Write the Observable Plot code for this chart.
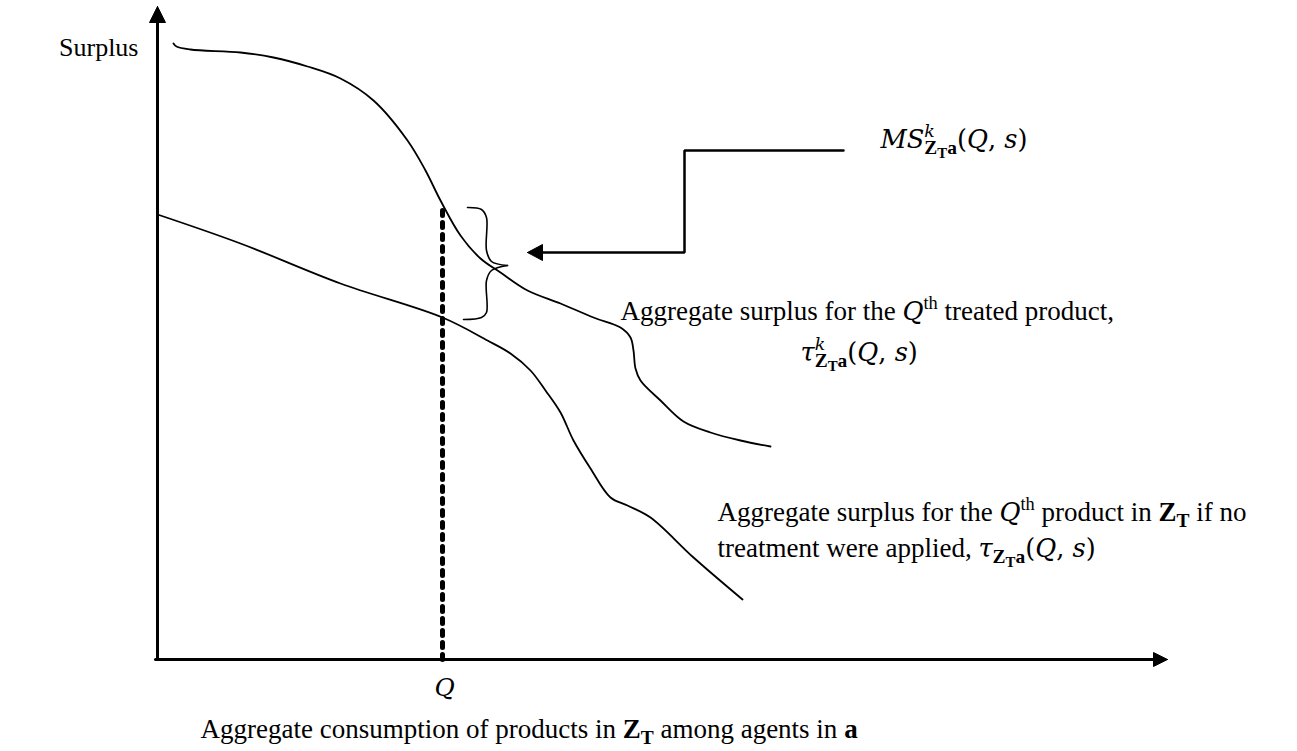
<!DOCTYPE html>
<html><head><meta charset="utf-8">
<script src="https://cdn.jsdelivr.net/npm/d3@7"></script>
<script src="https://cdn.jsdelivr.net/npm/@observablehq/plot@0.6"></script>
<style>body{margin:0;background:#fff}svg{display:block}</style>
</head><body><div id="chart"></div>
<script>
// Chart units: q = aggregate consumption (from the y-axis), s = surplus (above the x-axis)
const treatedCurve = [[16,616],[19,613],[33,610],[83,607],[116,602],[150,593],[183,581],[216,559],[250,519],[268,489],[283,459],[303,424],[323,401],[343,387],[370,369],[403,356],[436,342],[463,332],[473,322],[476,309],[478,291],[483,279],[503,259],[526,238],[553,227],[583,219],[613,213]];
const untreatedCurve = [[0,445],[83,416],[183,376],[285,342],[330,319],[353,306],[373,289],[388,269],[403,247],[416,219],[433,191],[453,162],[470,154],[493,142],[536,102],[585,60]];
const qMark = 285;           // position of Q on the consumption axis
const qTop = 456;            // where the dotted line meets the treated curve
const braceTop = [[310,452],[324,450],[329,442],[329,409],[334,398],[350,394]];
const braceBottom = [[350,394],[334,389],[329,379],[329,347],[324,342],[306,340]];
const connector = [[686,509],[527,509],[527,407],[385,407]];
const connectorHead = [[370,407],[385,415],[385,399],[370,407]];
const yAxisTop = 639, xAxisEnd = 996;
const yHead = [[0,653],[-8,637],[8,637],[0,653]];
const xHead = [[1010,0],[996,7],[996,-7],[1010,0]];

// labels: [key, q, s, anchor, fontSize, segments]   (m = math font)
const labels = [
  ["Surplus", -19, 612, "end", 26, [["Surplus"]]],
  ["MS", 723, 520, "start", 27, [["MS",{m:1,i:1}],["k",{m:1,i:1,sup:1}],["Z",{b:1,sub:1,back:1}],["T",{b:1,subsub:1}],["a",{b:1,sub:1}],["(",{m:1}],["Q",{m:1,i:1}],[", ",{m:1}],["s",{m:1,i:1}],[")",{m:1}]]],
  ["L1", 463, 348, "start", 27, [["Aggregate surplus for the "],["Q",{m:1,i:1}],["th",{sup:1}],[" treated product,"]]],
  ["L2", 643, 307, "start", 27, [["τ",{m:1,i:1}],["k",{m:1,i:1,sup:1}],["Z",{b:1,sub:1,back:1}],["T",{b:1,subsub:1}],["a",{b:1,sub:1}],["(",{m:1}],["Q",{m:1,i:1}],[", ",{m:1}],["s",{m:1,i:1}],[")",{m:1}]]],
  ["L3", 560, 147, "start", 27, [["Aggregate surplus for the "],["Q",{m:1,i:1}],["th",{sup:1}],[" product in "],["Z",{b:1}],["T",{b:1,sub:1}],[" if no"]]],
  ["L4", 560, 111, "start", 27, [["treatment were applied, "],["τ",{m:1,i:1}],["Z",{b:1,sub:1}],["T",{b:1,subsub:1}],["a",{b:1,sub:1}],["(",{m:1}],["Q",{m:1,i:1}],[", ",{m:1}],["s",{m:1,i:1}],[")",{m:1}]]],
  ["Qlabel", 287, -28, "middle", 26, [["Q",{m:1,i:1}]]],
  ["Caption", 43, -70, "start", 27, [["Aggregate consumption of products in "],["Z",{b:1}],["T",{b:1,sub:1}],[" among agents in "],["a",{b:1}]]]
];

const lineOpts = {x: d => d[0], y: d => d[1], stroke: "black"};
const textMark = anchor => Plot.text(labels.filter(d => d[3] === anchor), {
  x: d => d[1], y: d => d[2], text: d => d[0], textAnchor: anchor,
  fontSize: 26, fill: "black", lineAnchor: "middle"});
const plot = Plot.plot({
  width: 1297, height: 751,
  marginTop: 0, marginRight: 0, marginBottom: 0, marginLeft: 0,
  x: {domain: [-157, 1140], range: [0, 1297], axis: null},
  y: {domain: [-92, 659], range: [751, 0], axis: null},
  style: {background: "#fff", fontFamily: "'Liberation Serif', 'Times New Roman', serif"},
  marks: [
    Plot.line([[0,0],[0,yAxisTop]], {...lineOpts, strokeWidth: 3}),
    Plot.line(yHead, {...lineOpts, fill: "black", strokeWidth: 1}),
    Plot.line([[-2,0],[xAxisEnd,0]], {...lineOpts, strokeWidth: 3}),
    Plot.line(xHead, {...lineOpts, fill: "black", strokeWidth: 1}),
    Plot.line([[qMark,0],[qMark,qTop]], {...lineOpts, strokeWidth: 5, strokeDasharray: "5,7"}),
    Plot.line(treatedCurve, {...lineOpts, strokeWidth: 1.8, curve: "catmull-rom"}),
    Plot.line(untreatedCurve, {...lineOpts, strokeWidth: 1.8, curve: "catmull-rom"}),
    Plot.line(braceTop, {...lineOpts, strokeWidth: 1.6, curve: "catmull-rom"}),
    Plot.line(braceBottom, {...lineOpts, strokeWidth: 1.6, curve: "catmull-rom"}),
    Plot.line(connector, {...lineOpts, strokeWidth: 2.5, strokeLinejoin: "miter"}),
    Plot.line(connectorHead, {...lineOpts, fill: "black", strokeWidth: 1}),
    textMark("start"), textMark("middle"), textMark("end")
  ]
});
document.getElementById("chart").appendChild(plot);

function rich(el, segs, fs) {
  const ns = "http://www.w3.org/2000/svg";
  while (el.firstChild) el.removeChild(el.firstChild);
  el.setAttribute("font-size", fs);
  let cur = 0, prev = null;
  for (const [t, o = {}] of segs) {
    const ts = document.createElementNS(ns, "tspan");
    let size = 1, shift = 0;
    if (o.sup) { size = 0.68; shift = -0.42; }
    if (o.sub) { size = 0.72; shift = 0.22; }
    if (o.subsub) { size = 0.55; shift = 0.38; }
    if (o.m) { size *= 0.95; ts.setAttribute("font-family", "'DejaVu Serif', serif"); }
    ts.setAttribute("font-size", size * fs);
    if (o.i) ts.setAttribute("font-style", "italic");
    if (o.b) ts.setAttribute("font-weight", "bold");
    const dy = (shift - cur) * fs;
    if (dy) ts.setAttribute("dy", dy);
    cur = shift;
    if (o.back && prev) ts.setAttribute("dx", -prev.getComputedTextLength());
    ts.textContent = t;
    el.appendChild(ts);
    prev = ts;
  }
}
const byKey = new Map(labels.map(d => [d[0], d]));
plot.querySelectorAll("text").forEach(el => {
  const d = byKey.get(el.textContent);
  if (d) rich(el, d[5], d[4]);
});
</script></body></html>
